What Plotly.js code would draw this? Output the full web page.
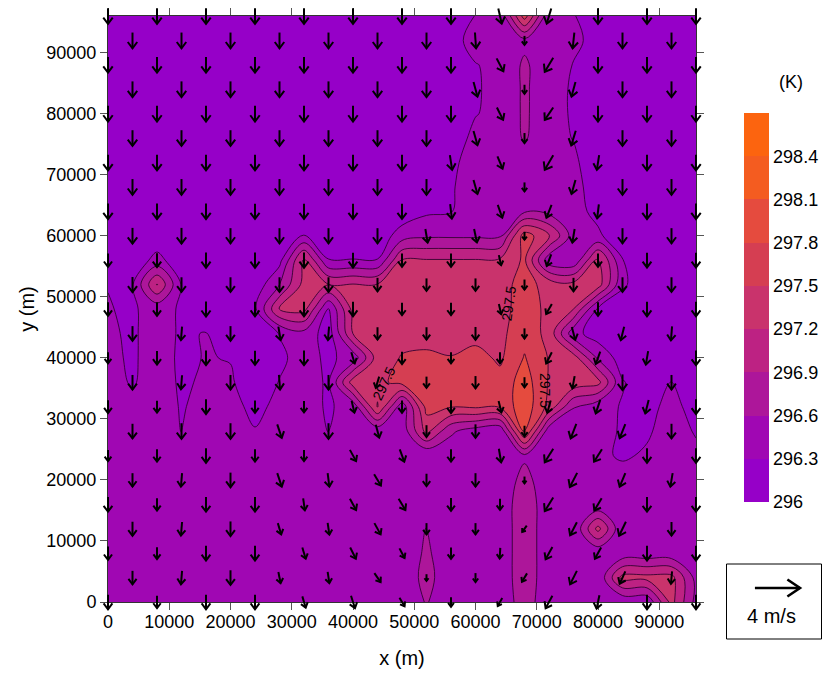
<!DOCTYPE html>
<html><head><meta charset="utf-8">
<script src="https://cdn.plot.ly/plotly-3.0.1.min.js"></script>
<style>html,body{margin:0;padding:0;background:#fff}</style></head>
<body><div id="chart" style="width:822px;height:675px"></div>
<script>
const gridStep = 4000;
const gridX = Array.from({length:25},(_,i)=>i*gridStep);
const gridY = Array.from({length:25},(_,i)=>i*gridStep);
const baseTemp = 296;
const bandColors = ['#9600c8','#a40aaa','#af1996','#be2382','#c8326e','#d23c55','#e14646','#ee552d','#fc640f'];
const legendTicks = [296,296.3,296.6,296.9,297.2,297.5,297.8,298.1,298.4];

// temperature above 296 K, rows from the top of the plot (y = 96000) down to y = 0
const tempTop = [
[.1,.1,.1,.1,.1,.1,.1,.1,.1,.1,.1,.1,.1,.1,.1,.31,.36,1.65,.36,.32,.1,.1,.1,.1,.1],
[.1,.1,.1,.1,.1,.1,.1,.1,.1,.1,.1,.1,.1,.1,.2,.4,.4,.52,.4,.4,.15,.1,.1,.1,.1],
[.1,.1,.1,.1,.1,.1,.1,.1,.1,.1,.1,.1,.1,.1,.1,.29,.36,.65,.4,.29,.1,.1,.1,.1,.1],
[.1,.1,.1,.1,.1,.1,.1,.1,.1,.1,.1,.1,.1,.1,.1,.28,.36,.65,.4,.27,.1,.1,.1,.1,.1],
[.1,.1,.1,.1,.1,.1,.1,.1,.1,.1,.1,.1,.1,.1,.1,.29,.36,.65,.4,.27,.1,.1,.1,.1,.1],
[.1,.1,.1,.1,.1,.1,.1,.1,.1,.1,.1,.1,.1,.1,.18,.36,.38,.63,.4,.29,.1,.1,.1,.1,.1],
[.1,.1,.1,.1,.1,.1,.1,.1,.1,.1,.1,.1,.1,.1,.26,.38,.4,.42,.4,.36,.1,.1,.1,.1,.1],
[.1,.1,.1,.1,.1,.1,.1,.1,.1,.1,.1,.1,.1,.1,.28,.4,.4,.42,.4,.4,.15,.1,.1,.1,.1],
[.1,.1,.1,.1,.1,.1,.1,.1,.1,.1,.1,.1,.1,.25,.29,.4,.42,.55,.5,.4,.22,.1,.1,.1,.1]
];
const tempMiddle = [
[.1,.1,.1,.1,.1,.1,.1,.1,.32,.1,.1,.1,.45,.55,.55,.55,.55,1.65,1.25,.45,.35,.1,.1,.1,.1],
[.1,.1,.4,.1,.1,.1,.1,.2,1.3,.31,.31,.31,1.22,1.22,1.22,1.22,1.25,1.55,.4,.35,1.3,.31,.1,.1,.1],
[.295,.28,1.22,.28,.1,.1,.1,.6,1.3,1.21,1.22,1.22,1.35,1.35,1.35,1.35,1.4,1.6,1.4,1.3,1.35,.35,.1,.1,.1],
[.31,.27,.4,.27,.1,.1,.25,1.21,1.3,.29,1.3,1.38,1.4,1.4,1.4,1.4,1.42,1.6,1.45,1.2,.25,.1,.1,.1,.1],
[.33,.27,.4,.27,.31,.1,.1,.31,.5,.15,1.21,1.35,1.4,1.4,1.4,1.4,1.42,1.7,1.4,.4,.15,.1,.1,.1,.1],
[.35,.27,.4,.26,.31,.29,.1,.25,.4,.25,.4,1.35,1.52,1.55,1.51,1.6,1.45,1.82,1.48,1.35,.55,.15,.1,.1,.1],
[.38,.28,.4,.27,.33,.33,.15,.31,.4,.27,1.35,1.42,1.6,1.65,1.65,1.65,1.6,1.95,1.47,1.4,1.3,.32,.15,.31,.15],
[.4,.35,.4,.285,.36,.36,.25,.35,.4,.27,.4,1.52,.4,1.6,1.52,1.55,1.55,2.0,1.4,.62,.4,.28,.22,.38,.2]
];
const tempBottom = [
[.4,.4,.4,.29,.4,.4,.31,.38,.4,.29,.4,.4,.4,1.3,.65,.45,.35,1.85,.4,.4,.4,.27,.27,.4,.28],
[.4,.4,.4,.4,.4,.4,.4,.4,.4,.4,.4,.4,.4,.32,.4,.4,.4,.55,.4,.4,.35,.27,.33,.4,.35],
[.4,.4,.4,.4,.4,.4,.4,.4,.4,.4,.4,.4,.4,.4,.4,.4,.4,.7,.4,.4,.4,.4,.4,.4,.4],
[.4,.4,.4,.4,.4,.4,.4,.4,.4,.4,.4,.4,.4,.4,.4,.4,.4,.8,.4,.4,.35,.4,.4,.4,.4],
[.4,.4,.4,.4,.4,.4,.4,.4,.4,.4,.4,.4,.4,.62,.4,.4,.4,.8,.4,.32,1.3,.32,.4,.4,.4],
[.4,.4,.4,.4,.4,.4,.4,.4,.4,.4,.4,.4,.4,.65,.4,.4,.4,.8,.4,.4,.35,.4,.4,.4,.4],
[.4,.4,.4,.4,.4,.4,.4,.4,.4,.4,.4,.4,.4,.7,.4,.4,.4,.8,.4,.4,.35,1.3,1.3,1.3,.5],
[.4,.4,.4,.4,.4,.4,.4,.4,.4,.4,.4,.4,.4,.62,.4,.4,.4,.75,.4,.4,.4,.35,.35,1.3,.5]
];

// wind, m/s, rows from top to bottom; rows are staggered (even rows on even grid columns, odd rows on odd ones)
const windU = [
[0,0,0,0,0,0,0,0,.3,-.4,0,0,0],
[0,0,0,0,0,0,0,.1,0,-.15,0,0],
[0,0,0,0,0,0,0,0,.6,-.75,0,0,0],
[0,0,0,0,0,0,0,.35,0,-.35,0,0],
[0,0,0,0,0,0,0,0,.55,-.75,0,0,0],
[0,0,0,0,0,0,0,.35,0,-.4,0,0],
[0,0,0,0,0,0,0,.2,.45,-.75,-.2,0,0],
[0,0,0,0,0,0,0,.35,0,-.35,0,0],
[0,0,0,0,0,0,0,.15,.4,-.45,-.15,0,0],
[0,0,0,0,0,0,.2,.25,0,-.2,0,0],
[0,0,0,0,0,0,0,0,.2,-.4,0,0,0],
[0,0,0,0,0,0,0,0,0,0,0,0],
[0,0,0,0,0,0,0,0,.2,-.5,0,0,0],
[0,-.1,0,.2,-.1,0,0,0,0,.3,-.3,-.1],
[0,0,0,0,0,.3,0,0,0,-.5,-.4,-.2,0],
[0,-.1,0,.1,0,-.3,0,0,0,-.2,0,0],
[0,0,0,0,0,.25,0,0,.25,-.3,-.4,-.3,0],
[0,0,0,.4,0,.3,0,0,0,-.5,-.5,0],
[0,0,0,0,0,.55,.4,0,.2,-.75,-.7,0,0],
[0,-.1,0,.4,.15,.6,0,0,0,-.65,-.5,-.2],
[0,0,0,0,.15,.55,.6,0,0,-.75,-.65,0,0],
[0,-.1,0,.3,.15,.55,0,0,-.4,-.6,-.6,0],
[0,0,0,0,.3,.5,.45,0,-.05,-.6,-.55,0,0],
[0,-.1,0,.2,.15,.55,0,0,-.45,-.6,-.5,-.1],
[0,0,0,0,.3,.35,.45,0,-.4,-.6,-.25,0,0]
];
const windV = [
[-1.4,-1.4,-1.4,-1.4,-1.4,-1.4,-1.4,-1.4,-1.35,-1.35,-1.4,-1.4,-1.4],
[-1.4,-1.4,-1.4,-1.4,-1.4,-1.4,-1.4,-1.4,-.8,-1.4,-1.4,-1.4],
[-1.4,-1.4,-1.4,-1.4,-1.4,-1.4,-1.4,-1.4,-1.15,-1.25,-1.4,-1.4,-1.4],
[-1.4,-1.4,-1.4,-1.4,-1.4,-1.4,-1.4,-1.3,-.8,-1.3,-1.4,-1.4],
[-1.4,-1.4,-1.4,-1.4,-1.4,-1.4,-1.4,-1.4,-1.1,-1.1,-1.4,-1.4,-1.4],
[-1.4,-1.4,-1.4,-1.4,-1.4,-1.4,-1.4,-1.25,-.9,-1.3,-1.4,-1.4],
[-1.4,-1.4,-1.4,-1.4,-1.4,-1.4,-1.4,-1.3,-1.1,-1.3,-1.3,-1.4,-1.4],
[-1.4,-1.4,-1.4,-1.4,-1.4,-1.4,-1.4,-1.25,-.8,-1.25,-1.4,-1.4],
[-1.4,-1.4,-1.4,-1.35,-1.35,-1.35,-1.35,-1.3,-1.15,-1.15,-1.25,-1.4,-1.4],
[-1.4,-1.4,-1.35,-1.35,-1.35,-1.35,-1.2,-1.2,-.7,-1.2,-1.35,-1.35],
[-1.2,-1.25,-1.35,-1.35,-1.35,-1.3,-1.2,-1.2,-.9,-1.05,-1.2,-1.3,-1.3],
[-1.35,-1.3,-1.3,-1.3,-1.3,-1.2,-1.1,-1.1,-.9,-1.2,-1.3,-1.3],
[-1.2,-1.2,-1.35,-1.3,-1.3,-1.3,-1.1,-1.1,-.9,-.9,-1.2,-1.3,-1.3],
[-1.3,-1.2,-1.3,-1.2,-1.2,-1.1,-1.1,-1.15,-.9,-1.15,-1.2,-1.25],
[-1,-1.2,-1.3,-1.25,-1.3,-1,-1.1,-1,-1,-1,-1.1,-1.2,-1.3],
[-1.3,-1.25,-1.3,-1.3,-1.3,-1,-1,-1.1,-.9,-1.1,-1.4,-1.3],
[-1.15,-1.05,-1.3,-1.1,-1,-1.05,-1.1,-1.15,-1,-1.1,-1.2,-1.2,-1.3],
[-1.3,-1.4,-1.4,-1.2,-1.4,-1.15,-1.05,-1.2,-.95,-1.3,-1.25,-1.3],
[-1,-1.1,-1.3,-1.1,-1,-1,-1.1,-1.1,-1.2,-1.2,-1.1,-1.3,-1.3],
[-1.2,-1.2,-1.3,-1.2,-1.2,-1,-1.1,-1.2,-.6,-1.25,-1.2,-1.2],
[-1.3,-1.1,-1.3,-1.3,-1.05,-1,-1,-1.15,-1,-1.2,-1.1,-1.3,-1.3],
[-1.25,-1.2,-1.3,-1,-1.05,-1,-1,-1,-.55,-1.15,-1.25,-1.2],
[-1.2,-1.05,-1.3,-1.3,-1,-1,-.85,-1,-.95,-1.1,-1,-1.3,-1.3],
[-1.2,-1.2,-1.3,-1,-1,-.8,-.6,-.8,-.75,-1.2,-1.1,-1.1],
[-1.3,-1.1,-1.3,-1.3,-1,-1.1,-.75,-.85,-.7,-1.1,-1.2,-1.3,-1.3]
];
const keySpeed = 4;
const keyLabel = '4 m/s';
const metersPerSpeed = 1840;
const contourLabelText = '297.5';
const contourLabelX = [45060, 65440, 71350];
const contourLabelY = [35870, 48970, 34730];
const contourLabelAngle = [-65, -82, 90];

const tempRows = [...tempTop, ...tempMiddle, ...tempBottom].slice().reverse()
  .map(r => r.map(v => +(baseTemp + v).toFixed(3)));

// Plotly samples each band at level + size/2 over [start - size/2, start - size/2 + n*size]
const n = bandColors.length;
const colorscale = [[0,bandColors[0]], ...bandColors.map((c,i)=>[(i+1)/n, c])];

// arrows
const ax=[], ay=[];
windU.forEach((row,r)=>{
  const rowIndex = 24 - r;
  row.forEach((u,k)=>{
    const v = windV[r][k];
    const col = k*2 + (rowIndex%2);
    const cx = gridX[col], cy = gridY[rowIndex];
    const dx = u*metersPerSpeed, dy = v*metersPerSpeed;
    const tx = cx+dx/2, ty = cy+dy/2;
    const hx = -dx*.4, hy = -dy*.4;
    const nx = -dy*.3, ny = dx*.3;
    ax.push(cx-dx/2, tx, null, tx+hx+nx, tx, tx+hx-nx, null);
    ay.push(cy-dy/2, ty, null, ty+hy+ny, ty, ty+hy-ny, null);
  });
});

const PW=822,PH=675,L=108,R=696,T=16,B=602;
const px=x=>x/PW, py=y=>(PH-y)/PH;
const xOf=p=>(p-L)*96000/(R-L), yOf=p=>(B-p)*96000/(B-T);

// scale key arrow, from the same speed-to-length factor
const keyLen = keySpeed*metersPerSpeed;
const keyTip = xOf(800), keyY = yOf(588);
const keyX = [keyTip-keyLen, keyTip, null, keyTip-keyLen*.28, keyTip, keyTip-keyLen*.28];
const keyYs = [keyY, keyY, null, keyY+keyLen*.19, keyY, keyY-keyLen*.19];

const textFont='Liberation Sans, Arial, sans-serif';

const data=[
 {type:'contour',x:gridX,y:gridY,z:tempRows,zmin:296,zmax:298.7,zauto:false,
  colorscale:colorscale,autocontour:false,
  contours:{start:296,end:298.4,size:.3,coloring:'fill',showlines:false},
  line:{width:0,smoothing:1},
  hoverinfo:'skip',
  colorbar:{thickness:25,thicknessmode:'pixels',len:389,lenmode:'pixels',
    x:px(744),xanchor:'left',xpad:0,y:py(502),yanchor:'bottom',ypad:0,
    outlinewidth:0,borderwidth:0,tickmode:'array',tickvals:legendTicks,
    ticktext:legendTicks.map(String),ticks:'',ticklen:0,
    tickfont:{family:textFont,size:18,color:'#000'}}},
 {type:'contour',x:gridX,y:gridY,z:tempRows,showscale:false,autocontour:false,
  contours:{start:296,end:298.4,size:.3,coloring:'none',showlines:true},
  line:{color:'rgba(45,0,45,0.85)',width:1,smoothing:1},hoverinfo:'skip'},
 {type:'scatter',mode:'lines',x:ax,y:ay,xaxis:'x2',yaxis:'y2',hoverinfo:'skip',showlegend:false,
  line:{color:'#000',width:2}},
 {type:'scatter',mode:'lines',x:keyX,y:keyYs,xaxis:'x2',yaxis:'y2',hoverinfo:'skip',showlegend:false,
  line:{color:'#000',width:2.6}}
];
const axisCommon={showgrid:false,zeroline:false,showline:true,mirror:'ticks',linecolor:'#333',linewidth:1,
  ticks:'outside',ticklen:7,tickcolor:'#555',tickwidth:1,tick0:0,dtick:10000,tickformat:'d',
  tickfont:{family:textFont,size:18,color:'#000'}};
const layout={width:PW,height:PH,paper_bgcolor:'#fff',plot_bgcolor:'rgba(0,0,0,0)',showlegend:false,
  margin:{l:0,r:0,t:0,b:0,pad:0,autoexpand:false},
  xaxis:{...axisCommon,domain:[L/PW,R/PW],range:[0,96000],ticklabelstandoff:-4,automargin:false,
    title:{text:'x (m)',font:{family:textFont,size:20,color:'#000'},standoff:20}},
  yaxis:{...axisCommon,domain:[py(B),py(T)],range:[0,96000],automargin:false,
    title:{text:'y (m)',font:{family:textFont,size:20,color:'#000'},standoff:6}},
  xaxis2:{domain:[0,1],range:[xOf(0),xOf(PW)],visible:false,anchor:'y2'},
  yaxis2:{domain:[0,1],range:[yOf(PH),yOf(0)],visible:false,anchor:'x2'},
  shapes:[{type:'rect',xref:'paper',yref:'paper',x0:px(726.5),x1:px(821.5),y0:py(639),y1:py(564),
    line:{color:'#000',width:1},fillcolor:'#fff',layer:'below'}],
  annotations:[
    ...contourLabelX.map((x,i)=>({x:x,y:contourLabelY[i],xref:'x',yref:'y',text:contourLabelText,showarrow:false,
      textangle:contourLabelAngle[i],font:{family:textFont,size:14,color:'#000'}})),
    {x:px(791),y:py(82),xref:'paper',yref:'paper',xanchor:'center',yanchor:'middle',text:'(K)',showarrow:false,font:{family:textFont,size:18,color:'#000'}},
    {x:px(771),y:py(616),xref:'paper',yref:'paper',xanchor:'center',yanchor:'middle',text:keyLabel,showarrow:false,font:{family:textFont,size:20,color:'#000'}}
  ]};
Plotly.newPlot('chart',data,layout,{displayModeBar:false,staticPlot:true});
</script></body></html>
